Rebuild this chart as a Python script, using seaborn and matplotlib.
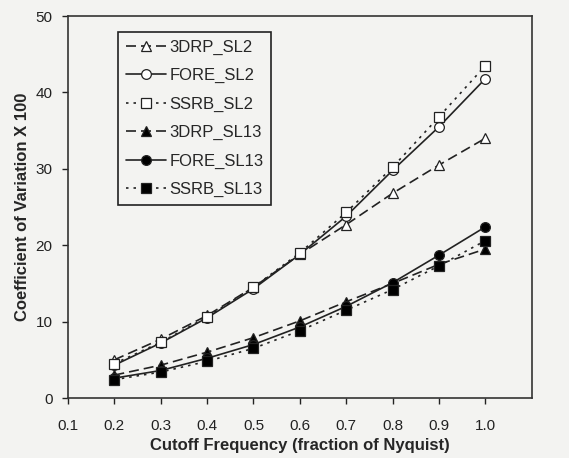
import matplotlib
matplotlib.use("Agg")
import matplotlib.pyplot as plt
import seaborn as sns
import pandas as pd

cutoff = [0.2, 0.3, 0.4, 0.5, 0.6, 0.7, 0.8, 0.9, 1.0]
drp_sl2 = [5.0, 7.7, 10.8, 14.5, 18.8, 22.7, 26.8, 30.5, 34.0]
fore_sl2 = [4.3, 7.2, 10.5, 14.3, 18.8, 23.8, 29.8, 35.5, 41.8]
ssrb_sl2 = [4.5, 7.3, 10.6, 14.5, 19.0, 24.3, 30.2, 36.8, 43.5]
drp_sl13 = [3.0, 4.3, 6.0, 7.9, 10.1, 12.6, 15.0, 17.5, 19.5]
fore_sl13 = [2.6, 3.6, 5.2, 7.0, 9.3, 12.0, 15.1, 18.7, 22.4]
ssrb_sl13 = [2.4, 3.4, 4.8, 6.5, 8.8, 11.5, 14.2, 17.3, 20.6]
series_names = ["3DRP_SL2", "FORE_SL2", "SSRB_SL2", "3DRP_SL13", "FORE_SL13", "SSRB_SL13"]
x_ticks = [0.1, 0.2, 0.3, 0.4, 0.5, 0.6, 0.7, 0.8, 0.9, 1.0]
y_ticks = [0, 10, 20, 30, 40, 50]

sns.set_style("ticks")
plt.rcParams['font.family'] = ['Liberation Sans', 'DejaVu Sans']

bg = '#f3f3f1'
fig = plt.figure(figsize=(5.69, 4.58), dpi=100, facecolor=bg)
ax = fig.add_axes([0.1195, 0.131, 0.815, 0.834])
ax.set_facecolor(bg)

values = [drp_sl2, fore_sl2, ssrb_sl2, drp_sl13, fore_sl13, ssrb_sl13]
styles = [
    dict(marker='^', ls=(0, (6, 3)), mfc='white'),
    dict(marker='o', ls='-', mfc='white'),
    dict(marker='s', ls=(0, (1.5, 3)), mfc='white'),
    dict(marker='^', ls=(0, (6, 3)), mfc='black'),
    dict(marker='o', ls='-', mfc='black'),
    dict(marker='s', ls=(0, (1.5, 3)), mfc='black'),
]
for name, vals, st in zip(series_names, values, styles):
    df = pd.DataFrame({"x": cutoff, "y": vals})
    sns.lineplot(data=df, x="x", y="y", ax=ax, color='#222222', lw=1.2,
                 linestyle=st['ls'], marker=st['marker'], markersize=7,
                 markerfacecolor=st['mfc'], markeredgecolor='#222222',
                 markeredgewidth=0.9, label=name)

ax.set_xlim(0.1, 1.1)
ax.set_ylim(0, 50)
ax.set_xticks(x_ticks)
ax.set_xticklabels([f"{t:.1f}" for t in x_ticks], fontsize=11)
ax.set_yticks(y_ticks)
ax.set_yticklabels([str(t) for t in y_ticks], fontsize=11)
ax.tick_params(direction='out', length=4, width=1, colors='#222222')
ax.tick_params(axis='x', pad=11)
ax.tick_params(axis='y', pad=7)
for s in ax.spines.values():
    s.set_visible(True)
    s.set_color('#333333')
    s.set_linewidth(1.2)
ax.set_xlabel("Cutoff Frequency (fraction of Nyquist)", fontsize=12, fontweight='bold', labelpad=4)
ax.set_ylabel("Coefficient of Variation X 100", fontsize=12, fontweight='bold', labelpad=4)

leg = ax.legend(loc='upper left', bbox_to_anchor=(0.108, 0.958), borderaxespad=0,
                fontsize=12, frameon=True, fancybox=False, edgecolor='#222222',
                facecolor=bg, handlelength=2.4, handletextpad=0.25,
                labelspacing=0.8, borderpad=0.45, framealpha=1)
leg.get_frame().set_linewidth(1.2)

fig.savefig("out.png", dpi=100, facecolor=bg)
